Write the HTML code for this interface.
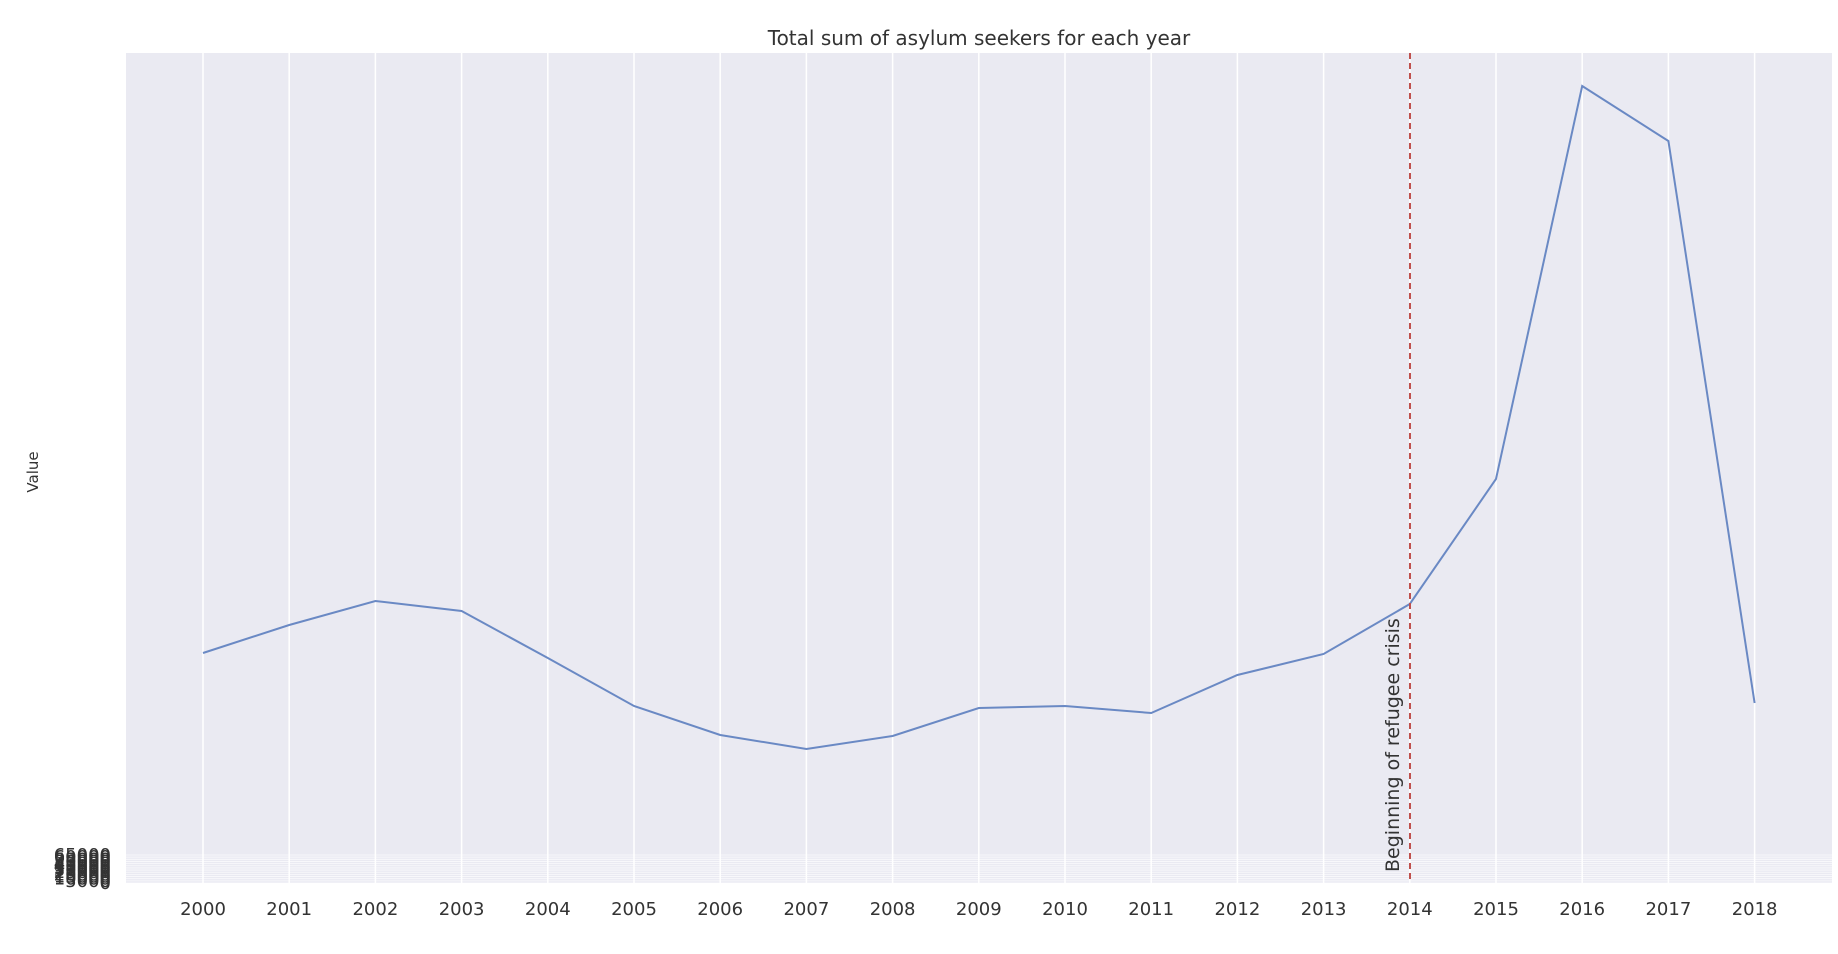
<!DOCTYPE html>
<html><head><meta charset="utf-8"><style>
body{margin:0;background:#fff;}
svg{display:block;font-family:"DejaVu Sans","Liberation Sans",sans-serif;}
</style></head><body>
<svg id="chart" width="1838" height="954">
<text x="979" y="45" text-anchor="middle" font-size="20" fill="#333">Total sum of asylum seekers for each year</text>
<text transform="translate(38,472) rotate(-90)" text-anchor="middle" font-size="15" fill="#333">Value</text>
<rect x="126" y="53" width="1706" height="830" fill="#eaeaf2"/>
<g id="grid"></g><g id="yticks"></g><g id="xticks"></g><g id="series"></g>
<line x1="1410" y1="53" x2="1410" y2="883" stroke="#c0504d" stroke-width="2" stroke-dasharray="6,4"/>
<text transform="translate(1399,872) rotate(-90)" font-size="19" fill="#333">Beginning of refugee crisis</text>
</svg>
<script>
const years=[2000,2001,2002,2003,2004,2005,2006,2007,2008,2009,2010,2011,2012,2013,2014,2015,2016,2017,2018];
const values=[25000,28500,31500,30250,24375,18375,14750,13000,14625,18125,18375,17500,22250,24875,31125,46750,95875,89000,18750];
const yTickLabels=[0,5000,10000,15000,20000,25000,30000,35000,40000,45000,50000,55000,60000,65000];
const NS="http://www.w3.org/2000/svg";
function xs(i){return 203+i*86.2;}
function ys(v){return 853-v/125;}
function yt(v){return 883-v/65000*28;}
function mk(t,a,p){const e=document.createElementNS(NS,t);for(const k in a)e.setAttribute(k,a[k]);p.appendChild(e);return e;}
const grid=document.getElementById('grid'),yg=document.getElementById('yticks'),xg=document.getElementById('xticks'),sg=document.getElementById('series');
yTickLabels.forEach(v=>{
 const l=mk('line',{x1:126,x2:1832,y1:yt(v),y2:yt(v),stroke:'#fff','stroke-width':0.8,opacity:0.8},grid);
 
 
 const t=mk('text',{x:111,y:yt(v)+6,'text-anchor':'end','font-size':18,fill:'#333'},yg);
 t.textContent=v;
 
 
});
years.forEach((yr,i)=>{
 const l=mk('line',{x1:xs(i),x2:xs(i),y1:53,y2:883,stroke:'#fff','stroke-width':1.5},grid);
 
 
 const t=mk('text',{x:xs(i),y:915,'text-anchor':'middle','font-size':18,fill:'#333'},xg);
 t.textContent=yr;
 
 
});
const p=mk('polyline',{points:values.map((v,i)=>xs(i)+','+ys(v)).join(' '),fill:'none',stroke:'#6a89c4','stroke-width':2},sg);


</script>
</body></html>
